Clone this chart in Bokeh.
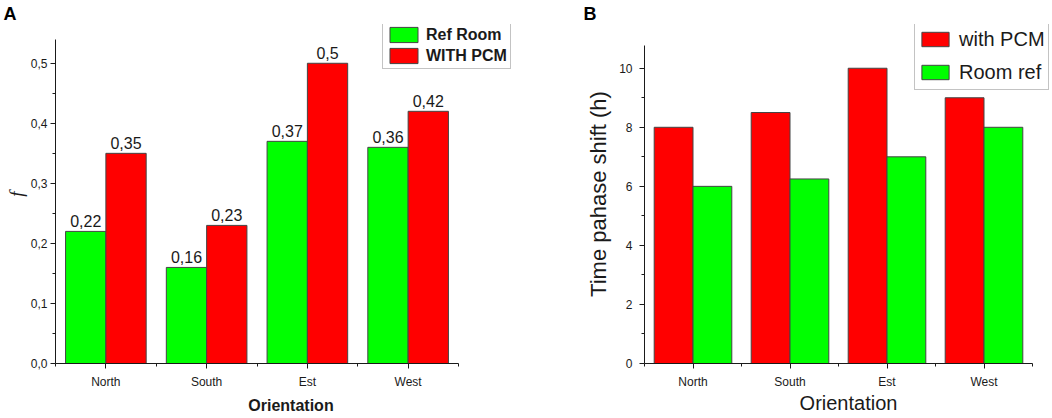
from bokeh.plotting import figure
from bokeh.models import (Range1d, FixedTicker, CustomJSTickFormatter, Legend, LegendItem,
                          Title, ColumnDataSource)
from bokeh.layouts import row
from bokeh.transform import dodge
from bokeh.core.properties import value
from bokeh.embed import file_html
from bokeh.resources import INLINE

# ---------------- data ----------------
orientations = ["North", "South", "Est", "West"]

# Panel A : f
a_ref_room = [0.22, 0.16, 0.37, 0.36]
a_with_pcm = [0.35, 0.23, 0.50, 0.42]
a_series_names = ["Ref Room", "WITH PCM"]
a_yticks = [0.0, 0.1, 0.2, 0.3, 0.4, 0.5]
a_axis_top = 0.54

# Panel B : time phase shift (h)
b_with_pcm = [8.0, 8.5, 10.0, 9.0]
b_room_ref = [6.0, 6.25, 7.0, 8.0]
b_series_names = ["with PCM", "Room ref"]
b_yticks = [0, 2, 4, 6, 8, 10]
b_axis_top = 10.77

FONT = "Liberation Sans"
INK = "#1a1a1a"
GREEN = "#00FF00"
RED = "#FF0000"
EDGE = "#444444"

H = 418
TOP = 22          # frame top (px)
BOTTOM = 55       # space below frame (px)
FRAME_H = H - TOP - BOTTOM

n = len(orientations)
positions = [i + 0.5 for i in range(n)]
boundaries = [float(i) for i in range(n + 1)]


def style_axes(p, yticks, yminor, yformatter, ybounds):
    p.xgrid.visible = False
    p.ygrid.visible = False
    p.outline_line_color = None
    p.background_fill_color = "white"
    p.border_fill_color = "white"
    for ax in (p.xaxis[0], p.yaxis[0]):
        ax.axis_line_color = INK
        ax.axis_line_width = 1
        ax.major_tick_line_color = INK
        ax.minor_tick_line_color = INK
        ax.major_tick_in = 0
        ax.major_tick_out = 5
        ax.minor_tick_in = 0
        ax.minor_tick_out = 3
        ax.major_label_text_font = FONT
        ax.major_label_text_font_size = "12px"
        ax.major_label_text_color = INK
        ax.axis_label_text_color = INK
    p.xaxis[0].bounds = (0, n)
    p.xaxis[0].ticker = FixedTicker(ticks=positions, minor_ticks=boundaries)
    p.xaxis[0].formatter = CustomJSTickFormatter(args=dict(names=orientations),
                                                 code="return names[Math.floor(tick)];")
    p.xaxis[0].major_label_standoff = 6
    p.yaxis[0].bounds = ybounds
    p.yaxis[0].ticker = FixedTicker(ticks=yticks, minor_ticks=yminor)
    p.yaxis[0].formatter = yformatter


def letter(text, offset):
    return Title(text=text, align="left", offset=offset, standoff=2,
                 text_font=FONT, text_font_style="bold", text_font_size="18px",
                 text_color="black")


# ---------------- Panel A ----------------
WA, LA = 526, 55                    # figure width, frame left
a_px_per_cat = 100.75               # horizontal scale
a_px_per_unit = 604.0               # vertical scale
src_a = ColumnDataSource(dict(
    pos=positions,
    ref=a_ref_room,
    pcm=a_with_pcm,
    ref_lbl=[str(v).replace(".", ",") for v in a_ref_room],
    pcm_lbl=[str(v).replace(".", ",") for v in a_with_pcm],
))

pa = figure(width=WA, height=H,
            x_range=Range1d(0, (WA - LA) / a_px_per_cat),
            y_range=Range1d(0, FRAME_H / a_px_per_unit),
            output_backend="svg", toolbar_location=None,
            min_border_left=LA, min_border_right=0, min_border_top=TOP, min_border_bottom=BOTTOM)
pa.add_layout(letter("A", -52), "above")

ga = pa.vbar(x=dodge("pos", -0.2), top="ref", width=0.4, source=src_a,
             fill_color=GREEN, line_color=EDGE, line_width=1)
ra = pa.vbar(x=dodge("pos", 0.2), top="pcm", width=0.4, source=src_a,
             fill_color=RED, line_color=EDGE, line_width=1)

pa.text(x=dodge("pos", -0.2), y="ref", text="ref_lbl", source=src_a,
        text_align="center", text_baseline="bottom", y_offset=-4,
        text_font=value(FONT), text_font_size="16px", text_color=INK)
pa.text(x=dodge("pos", 0.2), y="pcm", text="pcm_lbl", source=src_a,
        text_align="center", text_baseline="bottom", y_offset=-4,
        text_font=value(FONT), text_font_size="16px", text_color=INK)

a_minor = [round((t0 + t1) / 2, 3) for t0, t1 in zip(a_yticks, a_yticks[1:])]
style_axes(pa, a_yticks, a_minor,
           CustomJSTickFormatter(code="return tick.toFixed(1).replace('.', ',');"),
           (0, a_axis_top))
pa.xaxis[0].axis_label = "Orientation"
pa.xaxis[0].axis_label_text_font = FONT
pa.xaxis[0].axis_label_text_font_style = "bold"
pa.xaxis[0].axis_label_text_font_size = "16px"
pa.xaxis[0].axis_label_standoff = 5
pa.yaxis[0].axis_label = "f"
pa.yaxis[0].axis_label_text_font = "Liberation Serif"
pa.yaxis[0].axis_label_text_font_style = "italic"
pa.yaxis[0].axis_label_text_font_size = "19px"
pa.yaxis[0].axis_label_standoff = 1
pa.yaxis[0].major_label_standoff = 3

leg_a = Legend(items=[LegendItem(label=a_series_names[0], renderers=[ga]),
                      LegendItem(label=a_series_names[1], renderers=[ra])],
               location=(327, 294), orientation="vertical",
               label_text_font=FONT, label_text_font_style="bold", label_text_font_size="16px",
               label_text_color=INK, glyph_width=35, glyph_height=19, label_height=19,
               label_standoff=5, spacing=2, padding=3, margin=0,
               border_line_color="#888888", border_line_width=1,
               background_fill_color="white", background_fill_alpha=1)
pa.add_layout(leg_a)

# ---------------- Panel B ----------------
WB, LB = 526, 118
b_px_per_cat = 97.0
b_px_per_unit = 29.7
src_b = ColumnDataSource(dict(pos=positions, pcm=b_with_pcm, ref=b_room_ref))

pb = figure(width=WB, height=H,
            x_range=Range1d(0, (WB - LB) / b_px_per_cat),
            y_range=Range1d(0, FRAME_H / b_px_per_unit),
            output_backend="svg", toolbar_location=None,
            min_border_left=LB, min_border_right=0, min_border_top=TOP, min_border_bottom=BOTTOM)
pb.add_layout(letter("B", -61), "above")

rb = pb.vbar(x=dodge("pos", -0.2), top="pcm", width=0.4, source=src_b,
             fill_color=RED, line_color=EDGE, line_width=1)
gb = pb.vbar(x=dodge("pos", 0.2), top="ref", width=0.4, source=src_b,
             fill_color=GREEN, line_color=EDGE, line_width=1)

b_minor = [(t0 + t1) / 2 for t0, t1 in zip(b_yticks, b_yticks[1:])]
style_axes(pb, b_yticks, b_minor,
           CustomJSTickFormatter(code="return tick.toFixed(0);"),
           (0, b_axis_top))
pb.xaxis[0].axis_label = "Orientation"
pb.xaxis[0].axis_label_text_font = FONT
pb.xaxis[0].axis_label_text_font_style = "normal"
pb.xaxis[0].axis_label_text_font_size = "20px"
pb.xaxis[0].axis_label_standoff = 0
pb.yaxis[0].axis_label = "Time pahase shift (h)"
pb.yaxis[0].axis_label_text_font = FONT
pb.yaxis[0].axis_label_text_font_style = "normal"
pb.yaxis[0].axis_label_text_font_size = "22px"
pb.yaxis[0].axis_label_standoff = 5
pb.yaxis[0].major_label_standoff = 7

leg_b = Legend(items=[LegendItem(label=b_series_names[0], renderers=[rb]),
                      LegendItem(label=b_series_names[1], renderers=[gb])],
               location=(270, 273), orientation="vertical",
               label_text_font=FONT, label_text_font_style="normal", label_text_font_size="20px",
               label_text_color=INK, glyph_width=34, glyph_height=18, label_height=28,
               label_standoff=7, spacing=5, padding=3, margin=0,
               border_line_color="#888888", border_line_width=1,
               background_fill_color="white", background_fill_alpha=1)
pb.add_layout(leg_b)

layout = row(pa, pb)
open("out.html", "w").write(file_html(layout, INLINE))
